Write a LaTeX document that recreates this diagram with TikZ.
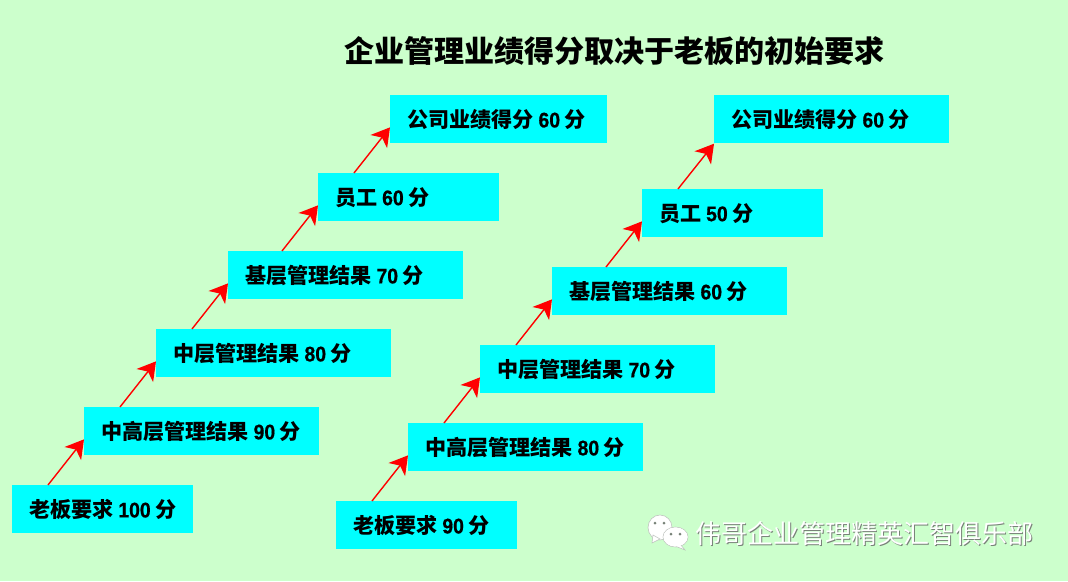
\documentclass[tikz,border=0pt]{standalone}
\usepackage{fontspec}
\setmainfont{Noto Sans CJK SC}
\newfontfamily\numfont[FakeStretch=0.92, BoldFeatures={FakeBold=0.6}]{Liberation Sans}
\usetikzlibrary{arrows.meta, positioning, calc}
\definecolor{bggreen}{RGB}{204, 255, 204}
\definecolor{boxcyan}{RGB}{0, 255, 255}
\definecolor{arrowred}{RGB}{255, 0, 0}
\definecolor{markgray}{RGB}{120, 130, 120}
\newcommand{\steplabel}[2]{\makebox[\linewidth][l]{#1\hspace{0.22em}{\numfont #2}\hspace{0.22em}分}}
\tikzset{
    stepbox/.style={fill=boxcyan, anchor=north west, inner xsep=0.34cm, inner ysep=0pt, minimum height=0.96cm, text width=#1, align=left, font=\fontsize{12}{14}\selectfont\bfseries, text=black},
    riselink/.style={-{Stealth[length=0.36cm, width=0.42cm, inset=0.1cm]}, arrowred, line width=0.8pt},
    bubble/.style={fill=white, draw=markgray!50, line width=0.3pt}
}
\begin{document}
\begin{tikzpicture}
    \fill[bggreen] (0,0) rectangle (21.36,-11.62);
    \useasboundingbox (0,0) rectangle (21.36,-11.62);

    % title
    \node[font=\fontsize{17.1}{20}\selectfont\bfseries] (title) at (12.29,-1.03) {企业管理业绩得分取决于老板的初始要求};

    % left staircase
    \node[stepbox=2.94cm] (la) at (0.24,-9.70) {\steplabel{老板要求}{100}};
    \node[stepbox=4.02cm] (lb) at (1.68,-8.14) {\steplabel{中高层管理结果}{90}};
    \node[stepbox=4.02cm] (lc) at (3.12,-6.58) {\steplabel{中层管理结果}{80}};
    \node[stepbox=4.02cm] (ld) at (4.56,-5.02) {\steplabel{基层管理结果}{70}};
    \node[stepbox=2.94cm] (le) at (6.36,-3.46) {\steplabel{员工}{60}};
    \node[stepbox=3.66cm] (lf) at (7.80,-1.90) {\steplabel{公司业绩得分}{60}};

    % right staircase
    \node[stepbox=2.94cm] (ra) at (6.72,-10.02) {\steplabel{老板要求}{90}};
    \node[stepbox=4.02cm] (rb) at (8.16,-8.46) {\steplabel{中高层管理结果}{80}};
    \node[stepbox=4.02cm] (rc) at (9.60,-6.90) {\steplabel{中层管理结果}{70}};
    \node[stepbox=4.02cm] (rd) at (11.04,-5.34) {\steplabel{基层管理结果}{60}};
    \node[stepbox=2.94cm] (re) at (12.84,-3.78) {\steplabel{员工}{50}};
    \node[stepbox=4.02cm] (rf) at (14.28,-1.90) {\steplabel{公司业绩得分}{60}};

    % arrows
    \foreach \from/\to in {la/lb, lb/lc, lc/ld, le/lf, ra/rb, rb/rc, rc/rd}
        \draw[riselink] ([xshift=0.72cm]\from.north west) -- ([yshift=-0.16cm]\to.west);
    \draw[riselink] ([xshift=1.08cm]ld.north west) -- ([yshift=-0.16cm]le.west);
    \draw[riselink] ([xshift=1.08cm]rd.north west) -- ([yshift=-0.16cm]re.west);
    \draw[riselink] ([xshift=0.72cm]re.north west) -- (rf.south west);

    % watermark
    \fill[bubble] (13.20,-10.55) ellipse (0.24cm and 0.25cm);
    \fill[bubble] (13.04,-10.86) -- (13.06,-10.70) -- (13.20,-10.78) -- cycle;
    \fill[bubble] (13.51,-10.74) ellipse (0.25cm and 0.20cm);
    \fill[bubble] (13.70,-11.00) -- (13.60,-10.88) -- (13.50,-10.92) -- cycle;
    \fill[white] (13.51,-10.74) ellipse (0.24cm and 0.19cm);
    \foreach \px/\py in {13.10/-10.46, 13.28/-10.46, 13.42/-10.68, 13.60/-10.68}
        \fill[markgray] (\px,\py) circle (0.03cm);
    \node[font=\fontsize{14.8}{17}\selectfont, text=markgray] (markshadow) at (17.31,-10.70) {伟哥企业管理精英汇智俱乐部};
    \node[font=\fontsize{14.8}{17}\selectfont, text=white] (marktext) at (17.29,-10.68) {伟哥企业管理精英汇智俱乐部};
\end{tikzpicture}
\end{document}
